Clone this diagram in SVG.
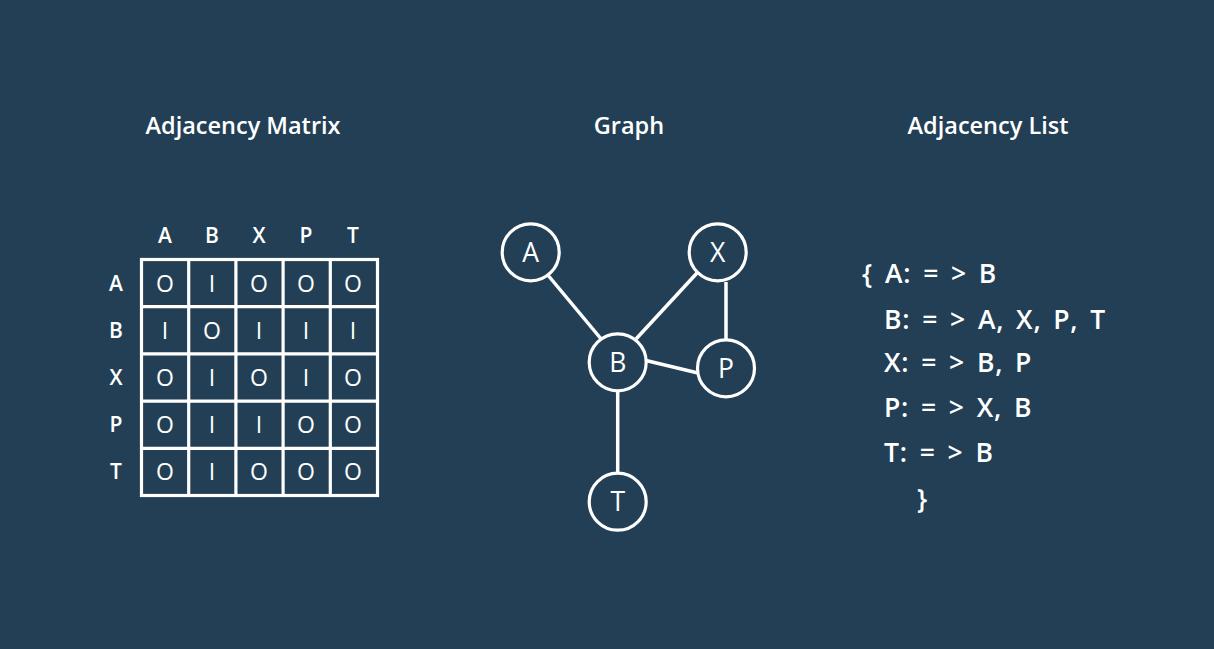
<svg xmlns="http://www.w3.org/2000/svg" width="1214" height="649" viewBox="0 0 1214 649">
<style>
.t{font-family:"Open Sans","Noto Sans",sans-serif;fill:#fff}
.title{font-size:23.5px;font-weight:600;text-anchor:middle}
.hd{font-size:21px;font-weight:600;text-anchor:middle}
.cell{font-size:23px;font-weight:500;text-anchor:middle}
.node circle{fill:#223f55;stroke:#fff;stroke-width:3.2}
.node text{font-size:26.5px;font-weight:400;text-anchor:middle}
.edge{stroke:#fff;stroke-width:3.5;fill:none}
.grid{stroke:#fff;stroke-width:3.2;fill:none}
.lst{font-size:26.5px;font-weight:600;letter-spacing:0.8px;word-spacing:4.2px}
</style>
<rect width="1214" height="649" fill="#223f55"/>
<text class="t title" x="243" y="134">Adjacency Matrix</text>
<text class="t title" x="629" y="134">Graph</text>
<text class="t title" x="988" y="134">Adjacency List</text>
<g id="matrix">
<g class="t hd">
<text x="165" y="243">A</text><text x="212" y="243">B</text><text x="259" y="243">X</text><text x="306" y="243">P</text><text x="353" y="243">T</text>
<text x="116" y="291">A</text><text x="116" y="338">B</text><text x="116" y="385">X</text><text x="116" y="432">P</text><text x="116" y="479">T</text>
</g>
<g class="grid">
<rect x="141.5" y="259.5" width="236" height="236"/>
<path d="M188.7 259.5V495.5M235.9 259.5V495.5M283.1 259.5V495.5M330.3 259.5V495.5M141.5 306.7H377.5M141.5 353.9H377.5M141.5 401.1H377.5M141.5 448.3H377.5"/>
</g>
<g class="t cell">
<text x="165" y="291.5">O</text><text x="212" y="291.5">I</text><text x="259" y="291.5">O</text><text x="306" y="291.5">O</text><text x="353" y="291.5">O</text>
<text x="165" y="338.5">I</text><text x="212" y="338.5">O</text><text x="259" y="338.5">I</text><text x="306" y="338.5">I</text><text x="353" y="338.5">I</text>
<text x="165" y="385.5">O</text><text x="212" y="385.5">I</text><text x="259" y="385.5">O</text><text x="306" y="385.5">I</text><text x="353" y="385.5">O</text>
<text x="165" y="432.5">O</text><text x="212" y="432.5">I</text><text x="259" y="432.5">I</text><text x="306" y="432.5">O</text><text x="353" y="432.5">O</text>
<text x="165" y="479.5">O</text><text x="212" y="479.5">I</text><text x="259" y="479.5">O</text><text x="306" y="479.5">O</text><text x="353" y="479.5">O</text>
</g>
</g>
<g id="connectors" class="edge">
<line x1="547" y1="274" x2="602" y2="340"/>
<line x1="697" y1="273" x2="636" y2="339"/>
<line x1="726" y1="282" x2="726" y2="340"/>
<line x1="646" y1="360.5" x2="698" y2="373"/>
<line x1="617.7" y1="390" x2="617.7" y2="474"/>
</g>
<g id="node-A" class="node"><circle cx="530.7" cy="252.3" r="28.5"/><text class="t" x="530.7" y="261.8">A</text></g>
<g id="node-X" class="node"><circle cx="717.7" cy="252.3" r="28.5"/><text class="t" x="717.7" y="261.8">X</text></g>
<g id="node-B" class="node"><circle cx="617.7" cy="362.3" r="28.5"/><text class="t" x="617.7" y="371.8">B</text></g>
<g id="node-P" class="node"><circle cx="726" cy="368.3" r="28.5"/><text class="t" x="726" y="377.8">P</text></g>
<g id="node-T" class="node"><circle cx="617.7" cy="501.7" r="28.5"/><text class="t" x="617.7" y="511.2">T</text></g>
<g id="list" class="t lst">
<text x="862" y="283">{ A: = &gt; B</text>
<text x="884" y="329">B: = &gt; A, X, P, T</text>
<text x="884" y="372">X: = &gt; B, P</text>
<text x="884" y="417">P: = &gt; X, B</text>
<text x="884" y="462">T: = &gt; B</text>
<text x="917" y="508">}</text>
</g>
</svg>
